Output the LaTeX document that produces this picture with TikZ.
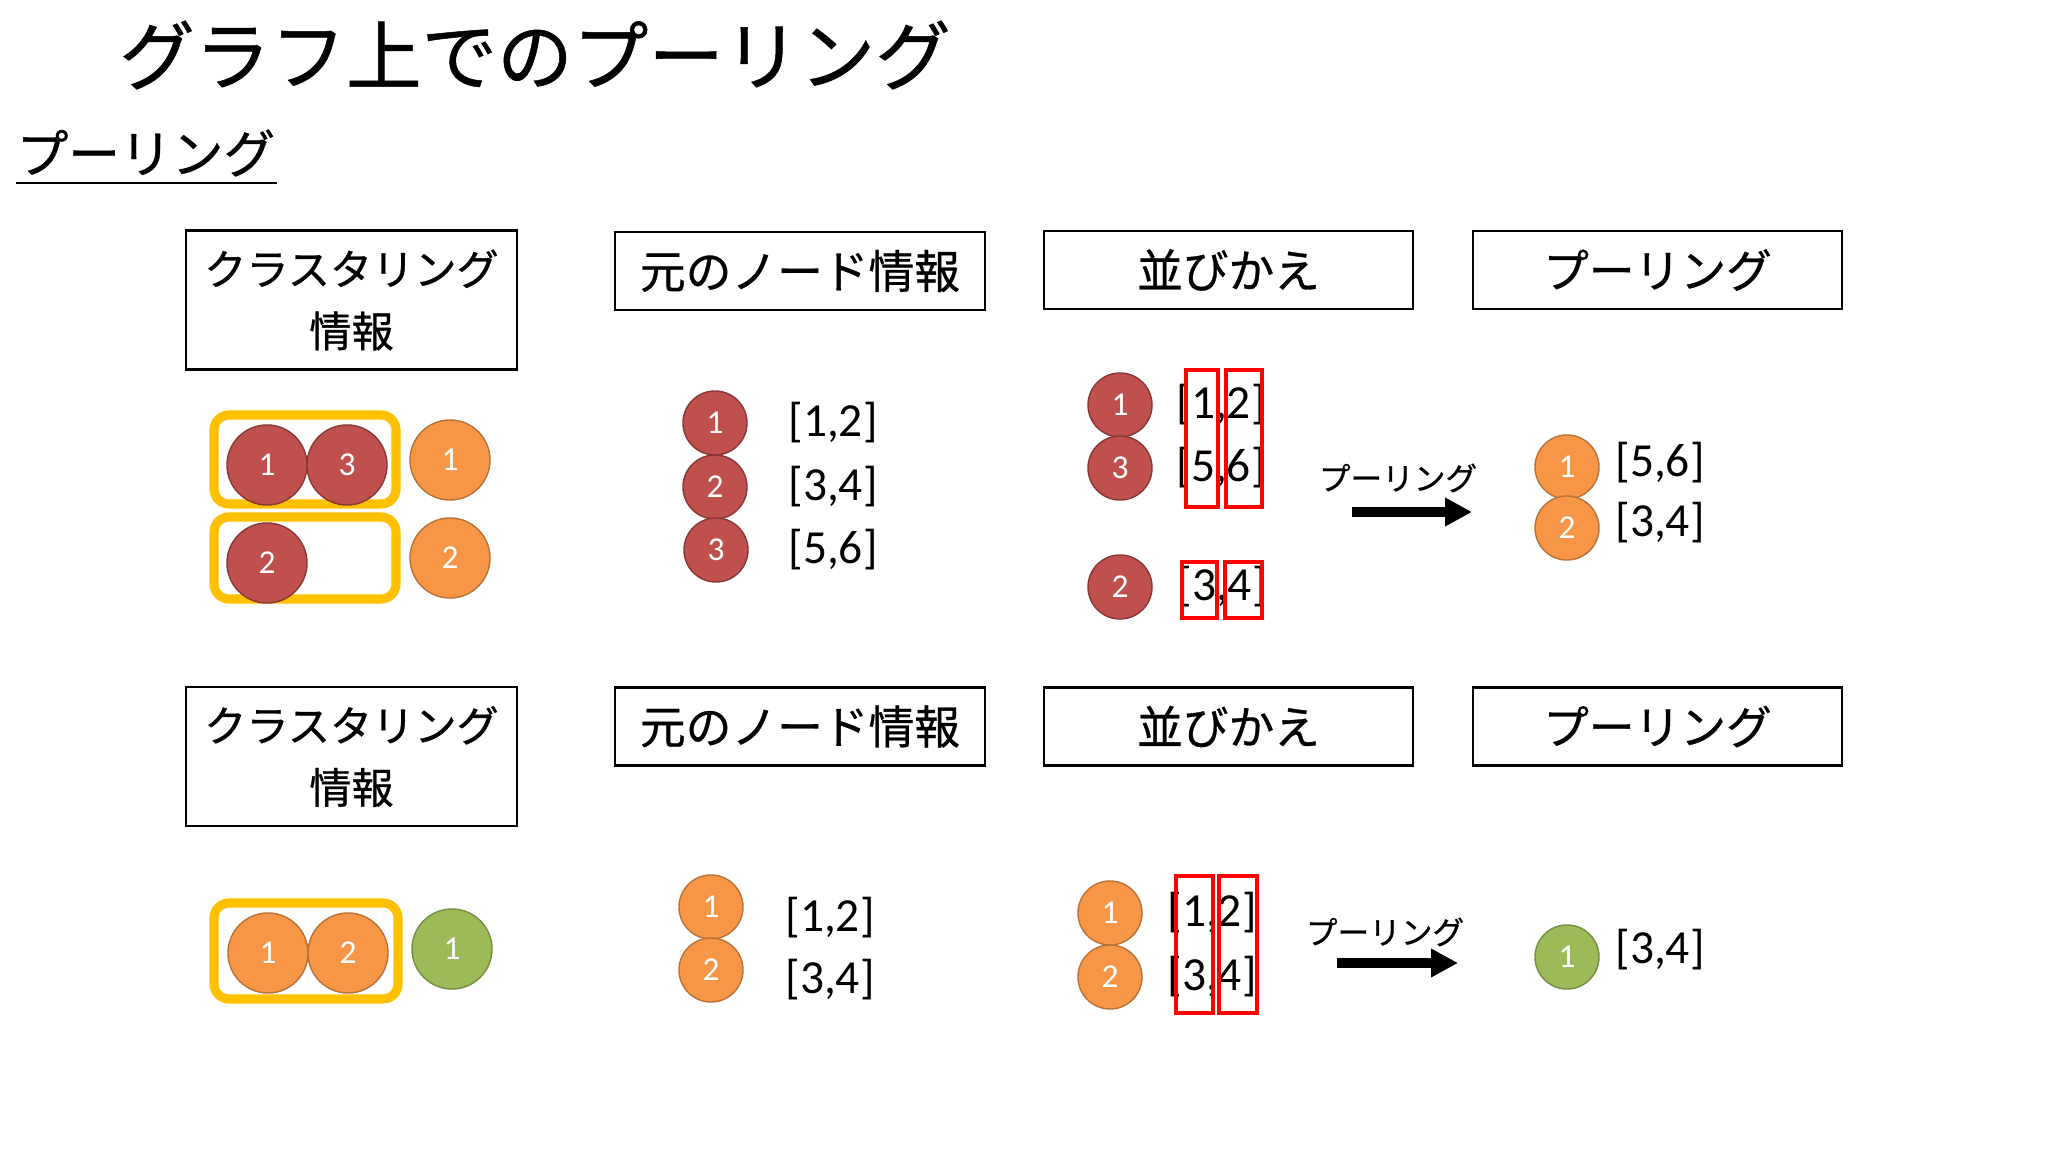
\documentclass[tikz,border=0pt]{standalone}
\usepackage{fontspec}
\setmainfont{Carlito}
\newfontfamily\jpfont[FakeBold=0.7]{Noto Sans CJK JP}
\usetikzlibrary{arrows.meta}

\definecolor{nodered}{HTML}{C0504D}
\definecolor{nodeorange}{HTML}{F79646}
\definecolor{nodegreen}{HTML}{9BBB59}
\definecolor{clusteryellow}{HTML}{FFC000}

\tikzset{
	headbox/.style={draw, line width=0.6pt, inner sep=0pt, minimum width=3.69cm, minimum height=0.78cm, font=\jpfont\fontsize{13}{16}\selectfont},
	clbox/.style={headbox, minimum width=3.31cm, minimum height=1.39cm, align=center, font=\jpfont\fontsize{12}{17.6}\selectfont},
	gnode/.style={circle, inner sep=0pt, minimum size=0.64cm, line width=0.4pt, text=white, font=\fontsize{9.5}{11}\selectfont},
	bignode/.style={minimum size=0.8cm},
	rednode/.style={gnode, fill=nodered, draw=nodered!70!black},
	orangenode/.style={gnode, fill=nodeorange, draw=nodeorange!75!black},
	greennode/.style={gnode, fill=nodegreen, draw=nodegreen!75!black},
	vec/.style={inner sep=0pt, font=\fontsize{13.5}{15}\selectfont},
	cluster/.style={draw=clusteryellow, line width=2.6pt, rounded corners=0.15cm},
	pick/.style={draw=red, line width=1.4pt},
	poolarrow/.style={line width=3pt, -{Triangle[length=2.7mm, width=2.7mm]}},
	poollabel/.style={inner sep=0pt, font=\jpfont\fontsize{9}{11}\selectfont}
}

\begin{document}
\begin{tikzpicture}[x=0.01cm, y=-0.01cm]
		\useasboundingbox (0,0) rectangle (2048,1152);
		%%%%% START %%%%%
		
		\node[inner sep=0pt, font=\jpfont\fontsize{21.5}{26}\selectfont] (title) at (535,55) {グラフ上でのプーリング};
		\node[inner sep=0pt, anchor=west, font=\jpfont\fontsize{14.7}{18}\selectfont] (sub) at (16,153) {プーリング};
		\draw[line width=0.8pt] (16,183) -- (277,183);
		
		%%%%% FIRST ROW %%%%%
		\node[clbox] (clA) at (351.5,300) {クラスタリング\\情報};
		\node[headbox, minimum width=3.70cm] (orgA) at (800,271) {元のノード情報};
		\node[headbox] (sortA) at (1228.5,270) {並びかえ};
		\node[headbox] (poolA) at (1657.5,270) {プーリング};
		
		\draw[cluster] (214,415) rectangle (396,504);
		\draw[cluster] (214,517) rectangle (396,599);
		\node[rednode, bignode] (ca1) at (267,465) {1};
		\node[rednode, bignode] (ca3) at (347,465) {3};
		\node[rednode, bignode] (ca2) at (267,563) {2};
		\node[orangenode, bignode] (cb1) at (450,460) {1};
		\node[orangenode, bignode] (cb2) at (450,558) {2};
		
		\node[rednode] (oa1) at (715,423) {1};
		\node[rednode] (oa2) at (715,487) {2};
		\node[rednode] (oa3) at (716,550) {3};
		\node[vec] (va1) at (833,423) {[1,2]};
		\node[vec] (va2) at (833,487) {[3,4]};
		\node[vec] (va3) at (833,550) {[5,6]};
		
		\node[rednode] (sa1) at (1120,405) {1};
		\node[rednode] (sa3) at (1120,468) {3};
		\node[rednode] (sa2) at (1120,587) {2};
		\node[vec] (wa1) at (1221,405) {[1,2]};
		\node[vec] (wa3) at (1221,468) {[5,6]};
		\node[vec] (wa2) at (1222,587) {[3,4]};
		\draw[pick] (1186,370) rectangle (1218,507);
		\draw[pick] (1226,370) rectangle (1262,507);
		\draw[pick] (1182,562) rectangle (1217,618);
		\draw[pick] (1225,562) rectangle (1262,618);
		
		\node[poollabel] (pla) at (1398,478) {プーリング};
		\coordinate (pa0) at (1352,512);
		\coordinate (pa1) at (1472,512);
		\draw[poolarrow] (pa0) -- (pa1);
		
		\node[orangenode] (pa1n) at (1567,467) {1};
		\node[orangenode] (pa2n) at (1567,528) {2};
		\node[vec] (xa1) at (1660,463) {[5,6]};
		\node[vec] (xa2) at (1660,523) {[3,4]};
		
		%%%%% SECOND ROW %%%%%
		\node[clbox] (clB) at (351.5,756.5) {クラスタリング\\情報};
		\node[headbox, minimum width=3.70cm] (orgB) at (800,726.5) {元のノード情報};
		\node[headbox] (sortB) at (1228.5,726.5) {並びかえ};
		\node[headbox] (poolB) at (1657.5,726.5) {プーリング};
		
		\draw[cluster] (214,903) rectangle (398,999);
		\node[orangenode, bignode] (cc1) at (268,953) {1};
		\node[orangenode, bignode] (cc2) at (348,953) {2};
		\node[greennode, bignode] (cd1) at (452,949) {1};
		
		\node[orangenode] (ob1) at (711,907) {1};
		\node[orangenode] (ob2) at (711,970) {2};
		\node[vec] (vb1) at (830,918) {[1,2]};
		\node[vec] (vb2) at (830,980) {[3,4]};
		
		\node[orangenode] (sb1) at (1110,913) {1};
		\node[orangenode] (sb2) at (1110,977) {2};
		\node[vec] (wb1) at (1212,913) {[1,2]};
		\node[vec] (wb2) at (1212,977) {[3,4]};
		\draw[pick] (1176,876) rectangle (1213,1013);
		\draw[pick] (1219,876) rectangle (1257,1013);
		
		\node[poollabel] (plb) at (1385,932) {プーリング};
		\coordinate (pb0) at (1337,963);
		\coordinate (pb1) at (1458,963);
		\draw[poolarrow] (pb0) -- (pb1);
		
		\node[greennode] (pb1n) at (1567,957) {1};
		\node[vec] (xb1) at (1660,950) {[3,4]};
		
		%%%%% END %%%%%
	\end{tikzpicture}
\end{document}
